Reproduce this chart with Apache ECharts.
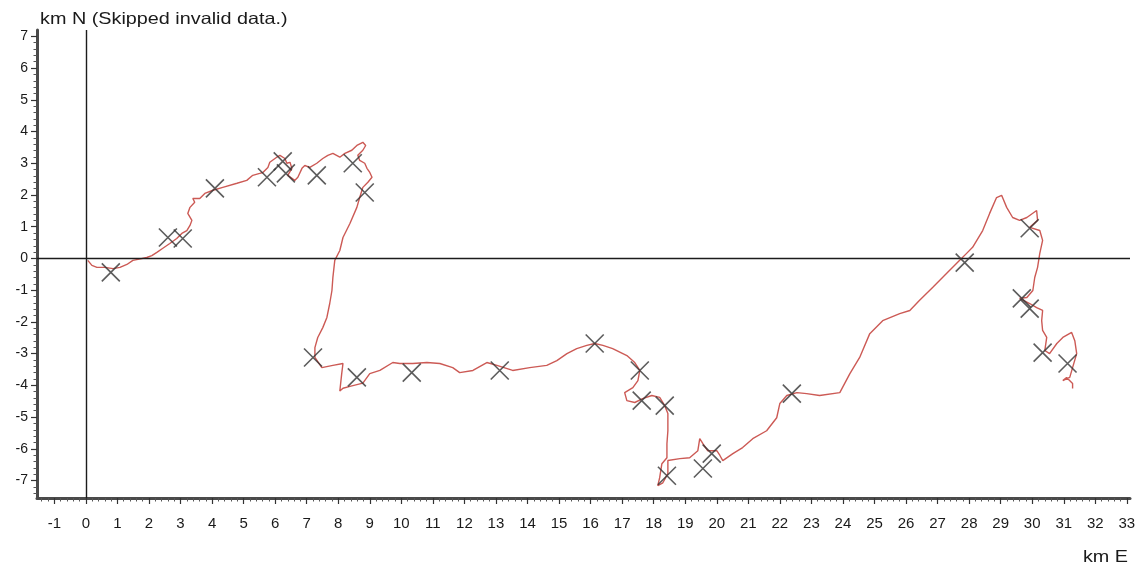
<!DOCTYPE html>
<html>
<head>
<meta charset="utf-8">
<script src="https://cdn.jsdelivr.net/npm/echarts@6/dist/echarts.min.js"></script>
<style>
html,body{margin:0;padding:0;background:#fff;}
#chart{width:1144px;height:566px;}
</style>
</head>
<body>
<div id="chart"></div>
<script>
// Track (km E, km N)
const trackX = [0.06,0.19,0.35,0.60,0.86,1.08,1.30,1.49,1.65,1.93,2.09,2.25,2.44,2.66,2.88,3.04,3.20,3.30,3.36,3.23,3.30,3.45,3.39,3.61,3.77,4.03,4.34,4.79,5.10,5.29,5.51,
  5.61,5.77,5.83,6.05,6.15,6.31,6.37,6.47,6.53,6.40,6.62,6.72,6.85,6.94,7.10,7.32,7.51,7.67,7.83,8.05,8.21,8.43,8.59,8.78,8.87,8.78,8.62,8.68,8.84,8.91,9.00,9.07,8.94,8.78,8.68,8.59,8.37,8.15,8.05,7.89,7.83,7.80,7.73,7.64,7.51,7.35,7.26,7.26,7.48,7.83,8.15,8.11,8.05,8.15,
  8.37,8.78,9.00,9.32,9.73,9.95,10.36,10.81,11.22,11.63,11.85,12.27,12.71,13.03,13.53,14.07,14.61,14.93,15.25,15.56,15.88,16.13,16.39,16.70,17.15,17.40,17.56,17.50,17.34,17.08,17.15,17.40,17.65,17.94,18.19,18.35,18.45,18.45,18.42,18.42,18.26,18.19,18.13,18.29,18.45,18.45,18.83,19.14,19.40,19.46,19.56,19.71,20.00,20.10,20.19,20.51,20.82,21.14,21.58,21.90,22.00,22.22,22.54,22.85,23.26,23.90,24.22,24.53,24.85,25.26,25.80,26.12,26.43,26.85,27.29,27.70,27.92,28.11,28.43,28.65,28.87,29.03,29.19,29.38,29.60,29.83,30.14,30.17,29.92,30.24,30.33,30.24,30.17,30.08,30.02,29.83,29.60,29.92,30.14,30.33,30.30,30.33,30.46,30.40,30.55,30.78,30.97,31.25,31.35,31.41,31.28,31.19,30.97,31.09,31.28,31.28];
const trackY = [-0.06,-0.22,-0.28,-0.28,-0.32,-0.28,-0.19,-0.06,-0.03,0.03,0.09,0.19,0.32,0.47,0.63,0.79,0.88,1.04,1.20,1.42,1.61,1.77,1.89,1.89,2.05,2.15,2.24,2.37,2.46,2.62,2.68,
  2.71,2.87,3.03,3.19,3.25,3.15,3.00,3.03,2.84,2.62,2.46,2.56,2.84,2.93,2.87,3.00,3.15,3.25,3.31,3.19,3.31,3.41,3.56,3.66,3.56,3.41,3.25,3.09,3.00,2.84,2.71,2.56,2.40,2.24,1.92,1.61,1.10,0.66,0.25,-0.06,-0.60,-1.01,-1.42,-1.86,-2.18,-2.49,-2.81,-3.12,-3.44,-3.37,-3.31,-3.63,-4.18,-4.09,
  -4.03,-3.93,-3.63,-3.53,-3.28,-3.31,-3.31,-3.28,-3.31,-3.44,-3.60,-3.53,-3.28,-3.37,-3.53,-3.44,-3.37,-3.22,-3.00,-2.84,-2.74,-2.68,-2.74,-2.84,-3.06,-3.28,-3.53,-3.85,-4.07,-4.23,-4.48,-4.54,-4.42,-4.32,-4.38,-4.64,-4.89,-5.43,-5.84,-6.28,-6.47,-6.91,-7.16,-7.07,-6.78,-6.37,-6.31,-6.28,-6.06,-5.68,-5.84,-6.06,-6.06,-6.21,-6.37,-6.15,-5.96,-5.68,-5.43,-5.02,-4.57,-4.32,-4.23,-4.26,-4.32,-4.23,-3.63,-3.12,-2.37,-1.96,-1.74,-1.64,-1.32,-0.91,-0.47,-0.06,0.16,0.35,0.88,1.42,1.92,1.99,1.61,1.29,1.20,1.29,1.51,1.20,0.98,0.88,0.57,0.16,-0.28,-0.60,-1.01,-1.23,-1.26,-1.42,-1.55,-1.64,-1.96,-2.27,-2.49,-2.90,-3.00,-2.68,-2.49,-2.33,-2.59,-3.00,-3.44,-3.75,-3.85,-3.75,-3.94,-4.10];

// Waypoint crosses
const markX = [0.79,2.60,3.07,4.09,5.74,6.24,6.34,7.32,8.46,8.84,7.20,8.59,10.33,13.12,16.13,17.56,17.62,18.35,18.42,19.56,19.84,22.38,27.86,29.92,29.67,29.92,30.33,31.12];
const markY = [-0.44,0.66,0.63,2.21,2.56,3.06,2.68,2.62,3.00,2.08,-3.12,-3.75,-3.60,-3.53,-2.68,-3.53,-4.48,-4.64,-6.85,-6.62,-6.15,-4.26,-0.13,0.95,-1.26,-1.58,-2.97,-3.31];

// Tick labels
const xTickLabels = [-1,0,1,2,3,4,5,6,7,8,9,10,11,12,13,14,15,16,17,18,19,20,21,22,23,24,25,26,27,28,29,30,31,32,33];
const yTickLabels = [-7,-6,-5,-4,-3,-2,-1,0,1,2,3,4,5,6,7];

const X_MIN = -1.55, X_MAX = 33.1, Y_MIN = -7.55, Y_MAX = 7.2;

function minorTicks(majors, lo, hi) {
  const out = [];
  for (let i = 0; i < majors.length; i++) {
    for (let k = -4; k <= 4; k++) {
      if (k === 0) continue;
      const v = Math.round((majors[i] + k * 0.2) * 100) / 100;
      if (v > lo && v < hi && out.indexOf(v) < 0) out.push(v);
    }
  }
  return out.sort((a, b) => a - b);
}
const xMinor = minorTicks(xTickLabels, X_MIN, X_MAX);
const yMinor = minorTicks(yTickLabels, Y_MIN, Y_MAX);

const track = trackX.map((x, i) => [x, trackY[i]]);
const marks = markX.map((x, i) => [x, markY[i]]);

const axisColor = '#4a4a4a';
const chart = echarts.init(document.getElementById('chart'), null, {renderer: 'canvas'});
chart.setOption({
  backgroundColor: '#ffffff',
  animation: false,
  grid: {left: 37, right: 14, top: 30, bottom: 68, containLabel: false},
  xAxis: [
    {
      type: 'value', min: X_MIN, max: X_MAX, position: 'bottom',
      axisLine: {show: true, onZero: false, lineStyle: {color: axisColor, width: 3}},
      axisTick: {show: true, inside: false, length: 6, customValues: xTickLabels, lineStyle: {color: '#333', width: 1.2}},
      axisLabel: {show: true, customValues: xTickLabels, margin: 18, color: '#1a1a1a', fontSize: 15, fontFamily: 'Liberation Sans, Arial, sans-serif'},
      splitLine: {show: false}
    },
    {
      type: 'value', min: X_MIN, max: X_MAX, position: 'bottom', gridIndex: 0,
      axisLine: {show: false, onZero: false},
      axisTick: {show: true, inside: false, length: 3.5, customValues: xMinor, lineStyle: {color: '#555', width: 1}},
      axisLabel: {show: false},
      splitLine: {show: false}
    }
  ],
  yAxis: [
    {
      type: 'value', min: Y_MIN, max: Y_MAX, position: 'left',
      axisLine: {show: true, onZero: false, lineStyle: {color: axisColor, width: 3}},
      axisTick: {show: true, inside: false, length: 6, customValues: yTickLabels, lineStyle: {color: '#333', width: 1.2}},
      axisLabel: {show: true, customValues: yTickLabels, margin: 9, color: '#1a1a1a', fontSize: 14, fontFamily: 'Liberation Sans, Arial, sans-serif'},
      splitLine: {show: false}
    },
    {
      type: 'value', min: Y_MIN, max: Y_MAX, position: 'left', gridIndex: 0,
      axisLine: {show: false, onZero: false},
      axisTick: {show: true, inside: false, length: 3.5, customValues: yMinor, lineStyle: {color: '#555', width: 1}},
      axisLabel: {show: false},
      splitLine: {show: false}
    }
  ],
  graphic: [
    {type: 'text', x: 40, y: 19, scaleX: 1.2, scaleY: 1, z: 10,
     style: {text: 'km N (Skipped invalid data.)', fill: '#1a1a1a', font: '16.5px "Liberation Sans", Arial, sans-serif', textAlign: 'left', textVerticalAlign: 'middle'}},
    {type: 'text', x: 1128, y: 557, scaleX: 1.2, scaleY: 1, z: 10,
     style: {text: 'km E', fill: '#1a1a1a', font: '16.5px "Liberation Sans", Arial, sans-serif', textAlign: 'right', textVerticalAlign: 'middle'}}
  ],
  series: [
    {
      type: 'line', xAxisIndex: 0, yAxisIndex: 0, data: track,
      showSymbol: false, symbol: 'none', smooth: false, z: 3,
      lineStyle: {color: '#cc5a55', width: 1.4},
      markLine: {
        silent: true, symbol: ['none', 'none'], label: {show: false}, animation: false,
        lineStyle: {color: '#1c1c1c', width: 1.4, type: 'solid'},
        data: [{xAxis: 0}, {yAxis: 0}]
      }
    },
    {
      type: 'scatter', xAxisIndex: 0, yAxisIndex: 0, data: marks, z: 5,
      symbol: 'path://M0,0L10,10M10,0L0,10', symbolSize: 18,
      itemStyle: {color: 'rgba(0,0,0,0)', borderColor: '#333333', borderWidth: 1.6}
    }
  ]
});
</script>
</body>
</html>
